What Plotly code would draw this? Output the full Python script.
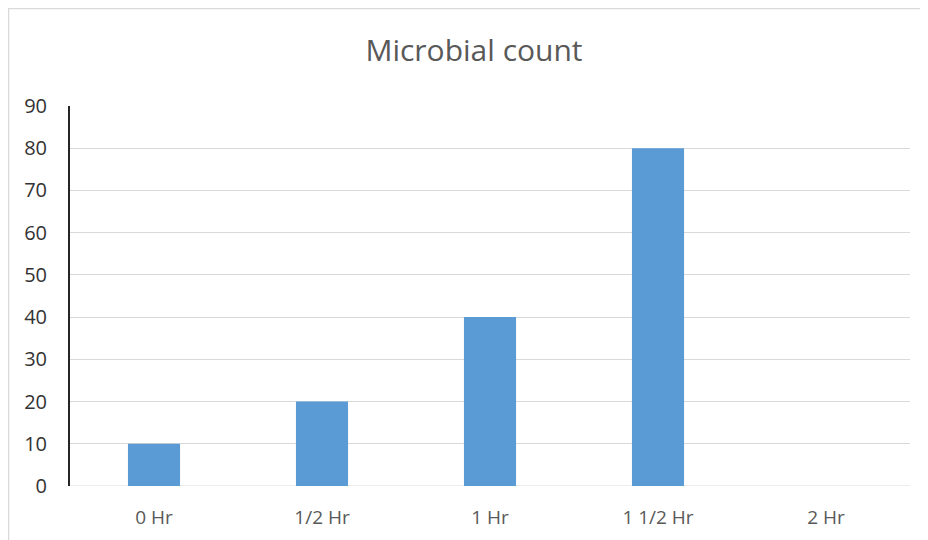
import plotly.graph_objects as go

categories = ["0 Hr", "1/2 Hr", "1 Hr", "1 1/2 Hr", "2 Hr"]
counts = [10, 20, 40, 80, 0]
y_ticks = [0, 10, 20, 30, 40, 50, 60, 70, 80, 90]

# page body has an 8px margin, compensate
OFF = 8
W, H = 928, 540
L, R, T, B = 70 - OFF, 18 + OFF, 106 - OFF, 54 + OFF
pw, ph = W - L - R, H - T - B

fig = go.Figure(go.Bar(x=categories, y=counts, marker_color="#5b9bd5", marker_line_width=0))

fig.update_layout(
    width=W, height=H,
    margin=dict(l=L, r=R, t=T, b=B),
    paper_bgcolor="white", plot_bgcolor="white",
    bargap=0.69,
    showlegend=False,
    title=dict(text="Microbial count", x=(474 - OFF - L) / pw, xref="paper", xanchor="center",
               y=1 - (50 - OFF) / H, yanchor="middle",
               font=dict(family="Open Sans", size=30, color="#595959")),
    font=dict(family="Open Sans"),
    xaxis=dict(showgrid=False, showline=False, ticks="", ticklabelstandoff=18,
               tickfont=dict(size=19, color="#595959")),
    yaxis=dict(range=[0, 90], tickvals=y_ticks, showgrid=True, gridcolor="#d9d9d9", gridwidth=1,
               showline=True, linecolor="#262626", linewidth=2, zeroline=False, ticks="",
               ticklabelstandoff=17,
               tickfont=dict(size=20, color="#333333")),
    shapes=[dict(type="rect", xref="paper", yref="paper",
                 x0=(0.5 - L) / pw, x1=(940 - L) / pw,
                 y0=(H - B - 560) / ph, y1=(H - B - 0.5) / ph,
                 line=dict(color="#d9d9d9", width=1.5), fillcolor="rgba(0,0,0,0)", layer="below")],
)
fig.add_shape(type="line", xref="paper", yref="y", x0=0, x1=1, y0=0, y1=0,
              line=dict(color="#d9d9d9", width=1), layer="below")

fig.write_html("out.html")
